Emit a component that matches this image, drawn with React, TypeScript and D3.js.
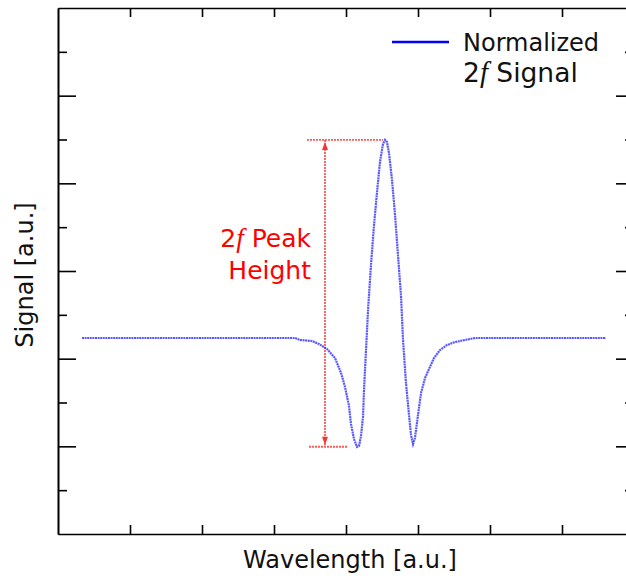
import React, { useEffect, useRef } from 'react';
import * as d3 from 'd3';

// 2f signal trace (x: wavelength, y: signal, both a.u.)
const waveX = [0.333, 3.292, 3.361, 3.528, 3.625, 3.736, 3.847, 3.931, 3.986, 4.042, 4.069, 4.111, 4.153, 4.181,
  4.208, 4.236, 4.25, 4.278, 4.306, 4.347, 4.389, 4.431, 4.472, 4.514, 4.542, 4.569, 4.597, 4.639, 4.681, 4.722,
  4.764, 4.792, 4.833, 4.875, 4.903, 4.931, 4.958, 5.0, 5.042, 5.097, 5.153, 5.222, 5.306, 5.403, 5.514, 5.653,
  5.792, 7.611];
const signalY = [4.472, 4.472, 4.426, 4.403, 4.335, 4.221, 4.015, 3.673, 3.354, 2.92, 2.51, 2.167, 1.985, 2.008,
  2.236, 2.669, 3.285, 4.198, 5.11, 6.137, 7.049, 7.802, 8.487, 8.897, 8.989, 8.943, 8.692, 8.076, 7.278, 6.365,
  5.43, 4.426, 3.445, 2.715, 2.259, 2.053, 2.19, 2.715, 3.217, 3.559, 3.764, 4.015, 4.198, 4.312, 4.38, 4.426,
  4.472, 4.472];

const xTicks = [1, 2, 3, 4, 5, 6, 7];
const yMajorTicks = [2, 4, 6, 8, 10];
const yMinorTicks = [1, 3, 5, 7, 9, 11];

// peak height annotation
const peakValue = 8.99;
const troughValue = 1.99;
const markerX = 3.708;
const peakLineX = [3.458, 4.514];
const troughLineX = [3.486, 4.028];

const width = 626;
const height = 578;
const margin = { left: 58, right: -8, top: 8, bottom: 44 };

export default function App() {
  const xAxisRef = useRef<SVGGElement>(null);
  const xTopRef = useRef<SVGGElement>(null);
  const yMajRef = useRef<SVGGElement>(null);
  const yMinRef = useRef<SVGGElement>(null);
  const yMajRRef = useRef<SVGGElement>(null);
  const yMinRRef = useRef<SVGGElement>(null);

  const x = d3.scaleLinear().domain([0, 8]).range([margin.left, width - margin.right]);
  const y = d3.scaleLinear().domain([0, 12]).range([height - margin.bottom, margin.top]);

  useEffect(() => {
    const noLabel = () => '';
    d3.select(xAxisRef.current!).call(d3.axisBottom(x).tickValues(xTicks).tickSizeInner(-9).tickSizeOuter(0).tickFormat(noLabel));
    d3.select(xTopRef.current!).call(d3.axisTop(x).tickValues(xTicks).tickSizeInner(-9).tickSizeOuter(0).tickFormat(noLabel));
    d3.select(yMajRef.current!).call(d3.axisLeft(y).tickValues(yMajorTicks).tickSizeInner(-18).tickSizeOuter(0).tickFormat(noLabel));
    d3.select(yMinRef.current!).call(d3.axisLeft(y).tickValues(yMinorTicks).tickSizeInner(-9).tickSizeOuter(0).tickFormat(noLabel));
    d3.select(yMajRRef.current!).call(d3.axisRight(y).tickValues(yMajorTicks).tickSizeInner(-18).tickSizeOuter(0).tickFormat(noLabel));
    d3.select(yMinRRef.current!).call(d3.axisRight(y).tickValues(yMinorTicks).tickSizeInner(-9).tickSizeOuter(0).tickFormat(noLabel));
    d3.selectAll('.axis path, .axis line').attr('stroke', '#000').attr('stroke-width', 1.6);
  }, []);

  const pts: [number, number][] = waveX.map((v, i) => [v, signalY[i]]);
  const line = d3.line<[number, number]>().x(d => x(d[0])).y(d => y(d[1]));

  const red = '#ff3030';
  const font = '"DejaVu Sans", Verdana, sans-serif';
  const italicF = '"Liberation Serif", "Times New Roman", serif';
  const ax = x(markerX);

  return (
    <svg width={width} height={height} style={{ position: 'absolute', left: 0, top: 0, background: '#fff' }}>
      <g className="axis" ref={xAxisRef} transform={`translate(0,${y(0)})`} />
      <g className="axis" ref={xTopRef} transform={`translate(0,${y(12)})`} />
      <g className="axis" ref={yMajRef} transform={`translate(${x(0)},0)`} />
      <g className="axis" ref={yMinRef} transform={`translate(${x(0)},0)`} />
      <g className="axis" ref={yMajRRef} transform={`translate(${x(8)},0)`} />
      <g className="axis" ref={yMinRRef} transform={`translate(${x(8)},0)`} />

      {/* annotation */}
      <g stroke={red} strokeWidth={1.8} strokeDasharray="2,1" opacity={0.8}>
        <line x1={x(peakLineX[0])} x2={x(peakLineX[1])} y1={y(peakValue)} y2={y(peakValue)} />
        <line x1={x(troughLineX[0])} x2={x(troughLineX[1])} y1={y(troughValue)} y2={y(troughValue)} />
        <line x1={ax} x2={ax} y1={y(peakValue)} y2={y(troughValue)} />
      </g>
      <path d={`M${ax},${y(peakValue) + 2}l-3,8h6z`} fill={red} />
      <path d={`M${ax},${y(troughValue) - 2}l-3,-8h6z`} fill={red} />

      <path d={line(pts)!} fill="none" stroke="#3030ff" strokeWidth={2.2} opacity={0.8} strokeDasharray="2,0.6" />

      <g fontFamily={font} fontSize={25} fill="#ff0000" textAnchor="end">
        <text x={311} y={247}>2<tspan fontFamily={italicF} fontStyle="italic" fontSize={27}>f</tspan> Peak</text>
        <text x={311} y={279}>Height</text>
      </g>

      <line x1={392} x2={449} y1={42} y2={42} stroke="#0000ff" strokeWidth={2.5} />
      <g fontFamily={font} fill="#111">
        <text x={463} y={51} fontSize={24}>Normalized</text>
        <text x={463} y={82} fontSize={26.5}>2<tspan fontFamily={italicF} fontStyle="italic" fontSize={29}>f</tspan> Signal</text>
      </g>

      <text x={350} y={568} textAnchor="middle" fontFamily={font} fontSize={24} fill="#111">Wavelength [a.u.]</text>
      <text transform={`translate(33,275) rotate(-90)`} textAnchor="middle" fontFamily={font} fontSize={24} fill="#111">Signal [a.u.]</text>
    </svg>
  );
}
